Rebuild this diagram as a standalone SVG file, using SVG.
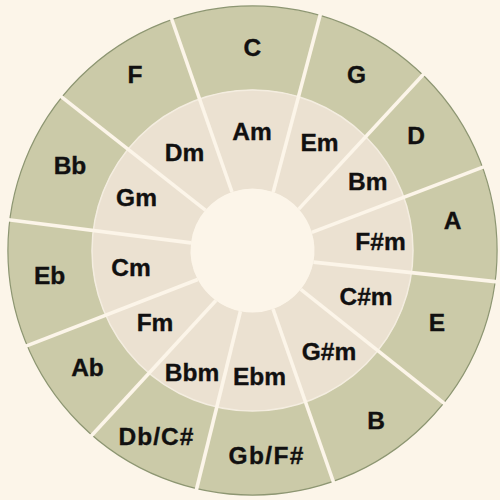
<svg xmlns="http://www.w3.org/2000/svg" width="500" height="500" viewBox="0 0 500 500">
  <style>
    .outer { fill: #cbcaa8; }
    .inner { fill: #ebe1d1; }
    .lbl { font-family: "Liberation Sans", Arial, "Helvetica", sans-serif; font-weight: bold; font-size: 24.5px; fill: #111010; stroke: #111010; stroke-width: 0.35; text-anchor: middle; }
    .sep { stroke: #fcf5e9; stroke-width: 3.6; stroke-linecap: butt; fill: none; }
  </style>
  <rect x="0" y="0" width="500" height="500" fill="#fcf5e9"/>

  <!-- outer ring (major keys) -->
  <g id="key-C"><path class="outer" d="M171.9,19.6 A244.6,244.6 0 0 1 319.9,15.4 L298.4,96.7 A160.5,160.5 0 0 0 199.6,99.0 Z"/><text class="lbl" x="252.3" y="56.2">C</text></g>
  <g id="key-G"><path class="outer" d="M319.9,15.4 A244.6,244.6 0 0 1 422.8,74.9 L365.7,136.8 A160.5,160.5 0 0 0 298.4,96.7 Z"/><text class="lbl" x="356.5" y="82.8">G</text></g>
  <g id="key-D"><path class="outer" d="M422.8,74.9 A244.6,244.6 0 0 1 482.4,167.2 L403.9,197.2 A160.5,160.5 0 0 0 365.7,136.8 Z"/><text class="lbl" x="416" y="144.2">D</text></g>
  <g id="key-A"><path class="outer" d="M482.4,167.2 A244.6,244.6 0 0 1 495.1,281.5 L411.5,272.5 A160.5,160.5 0 0 0 403.9,197.2 Z"/><text class="lbl" x="452.5" y="228.8">A</text></g>
  <g id="key-E"><path class="outer" d="M495.1,281.5 A244.6,244.6 0 0 1 443.8,403.0 L377.9,350.6 A160.5,160.5 0 0 0 411.5,272.5 Z"/><text class="lbl" x="437" y="330.8">E</text></g>
  <g id="key-B"><path class="outer" d="M443.8,403.0 A244.6,244.6 0 0 1 333.2,481.4 L305.4,402.0 A160.5,160.5 0 0 0 377.9,350.6 Z"/><text class="lbl" x="376" y="429.2">B</text></g>
  <g id="key-Gb"><path class="outer" d="M333.2,481.4 A244.6,244.6 0 0 1 196.6,488.6 L216.8,407.0 A160.5,160.5 0 0 0 305.4,402.0 Z"/><text class="lbl" x="266" y="463.8" textLength="75" lengthAdjust="spacing">Gb/F#</text></g>
  <g id="key-Db"><path class="outer" d="M196.6,488.6 A244.6,244.6 0 0 1 91.9,434.9 L148.9,373.1 A160.5,160.5 0 0 0 216.8,407.0 Z"/><text class="lbl" x="156" y="445.2" textLength="75" lengthAdjust="spacing">Db/C#</text></g>
  <g id="key-Ab"><path class="outer" d="M91.9,434.9 A244.6,244.6 0 0 1 27.1,345.5 L105.6,315.1 A160.5,160.5 0 0 0 148.9,373.1 Z"/><text class="lbl" x="87.5" y="376.2">Ab</text></g>
  <g id="key-Eb"><path class="outer" d="M27.1,345.5 A244.6,244.6 0 0 1 9.8,220.0 L93.2,230.5 A160.5,160.5 0 0 0 105.6,315.1 Z"/><text class="lbl" x="49.7" y="284.2">Eb</text></g>
  <g id="key-Bb"><path class="outer" d="M9.8,220.0 A244.6,244.6 0 0 1 61.9,97.2 L128.0,149.2 A160.5,160.5 0 0 0 93.2,230.5 Z"/><text class="lbl" x="70" y="173.8">Bb</text></g>
  <g id="key-F"><path class="outer" d="M61.9,97.2 A244.6,244.6 0 0 1 171.9,19.6 L199.6,99.0 A160.5,160.5 0 0 0 128.0,149.2 Z"/><text class="lbl" x="135" y="82.8">F</text></g>

  <!-- inner ring (minor keys) -->
  <g id="key-Am"><path class="inner" d="M199.6,99.0 A160.5,160.5 0 0 1 298.4,96.7 L273.2,192.1 A62,62 0 0 0 232.0,192.0 Z"/><text class="lbl" x="252" y="139.8">Am</text></g>
  <g id="key-Em"><path class="inner" d="M298.4,96.7 A160.5,160.5 0 0 1 365.7,136.8 L298.7,209.1 A62,62 0 0 0 273.2,192.1 Z"/><text class="lbl" x="319.5" y="150.6">Em</text></g>
  <g id="key-Bm"><path class="inner" d="M365.7,136.8 A160.5,160.5 0 0 1 403.9,197.2 L311.8,232.4 A62,62 0 0 0 298.7,209.1 Z"/><text class="lbl" x="367.7" y="189.8">Bm</text></g>
  <g id="key-Fsm"><path class="inner" d="M403.9,197.2 A160.5,160.5 0 0 1 411.5,272.5 L313.4,262.1 A62,62 0 0 0 311.8,232.4 Z"/><text class="lbl" x="380.5" y="249.8">F#m</text></g>
  <g id="key-Csm"><path class="inner" d="M411.5,272.5 A160.5,160.5 0 0 1 377.9,350.6 L300.8,289.3 A62,62 0 0 0 313.4,262.1 Z"/><text class="lbl" x="366" y="304.8">C#m</text></g>
  <g id="key-Gsm"><path class="inner" d="M377.9,350.6 A160.5,160.5 0 0 1 305.4,402.0 L273.0,309.0 A62,62 0 0 0 300.8,289.3 Z"/><text class="lbl" x="329" y="359.8">G#m</text></g>
  <g id="key-Ebm"><path class="inner" d="M305.4,402.0 A160.5,160.5 0 0 1 216.8,407.0 L240.4,311.3 A62,62 0 0 0 273.0,309.0 Z"/><text class="lbl" x="259.5" y="384.8">Ebm</text></g>
  <g id="key-Bbm"><path class="inner" d="M216.8,407.0 A160.5,160.5 0 0 1 148.9,373.1 L215.9,300.5 A62,62 0 0 0 240.4,311.3 Z"/><text class="lbl" x="192" y="380.5">Bbm</text></g>
  <g id="key-Fm"><path class="inner" d="M148.9,373.1 A160.5,160.5 0 0 1 105.6,315.1 L197.7,279.5 A62,62 0 0 0 215.9,300.5 Z"/><text class="lbl" x="155" y="330.8">Fm</text></g>
  <g id="key-Cm"><path class="inner" d="M105.6,315.1 A160.5,160.5 0 0 1 93.2,230.5 L191.0,242.9 A62,62 0 0 0 197.7,279.5 Z"/><text class="lbl" x="131" y="275.8">Cm</text></g>
  <g id="key-Gm"><path class="inner" d="M93.2,230.5 A160.5,160.5 0 0 1 128.0,149.2 L205.4,210.1 A62,62 0 0 0 191.0,242.9 Z"/><text class="lbl" x="136.5" y="206.2">Gm</text></g>
  <g id="key-Dm"><path class="inner" d="M128.0,149.2 A160.5,160.5 0 0 1 199.6,99.0 L232.0,192.0 A62,62 0 0 0 205.4,210.1 Z"/><text class="lbl" x="184.5" y="161.2">Dm</text></g>

  <!-- ring outlines -->
  <circle cx="252.5" cy="250.5" r="244.6" fill="none" stroke="#8d9672" stroke-width="1.2"/>
  <circle cx="252.5" cy="250.5" r="160.5" fill="none" stroke="#f4ede0" stroke-width="1.5"/>

  <!-- separators -->
  <g id="connectors">
    <line class="sep" x1="170.1" y1="14.5" x2="232.0" y2="192.0"/>
    <line class="sep" x1="321.4" y1="10.2" x2="273.2" y2="192.1"/>
    <line class="sep" x1="426.5" y1="71.0" x2="298.7" y2="209.1"/>
    <line class="sep" x1="487.5" y1="165.4" x2="311.8" y2="232.4"/>
    <line class="sep" x1="500.4" y1="282.2" x2="313.4" y2="262.1"/>
    <line class="sep" x1="448.0" y1="406.4" x2="300.8" y2="289.3"/>
    <line class="sep" x1="335.0" y1="486.5" x2="273.0" y2="309.0"/>
    <line class="sep" x1="195.4" y1="493.8" x2="240.4" y2="311.3"/>
    <line class="sep" x1="88.4" y1="439.0" x2="215.9" y2="300.5"/>
    <line class="sep" x1="22.1" y1="347.6" x2="197.7" y2="279.5"/>
    <line class="sep" x1="4.5" y1="219.3" x2="191.0" y2="242.9"/>
    <line class="sep" x1="57.7" y1="93.8" x2="205.4" y2="210.1"/>
  </g>

  <!-- center hole -->
  <g id="center"><circle cx="252.5" cy="250.5" r="61.5" fill="#fcf5e9"/></g>
</svg>
